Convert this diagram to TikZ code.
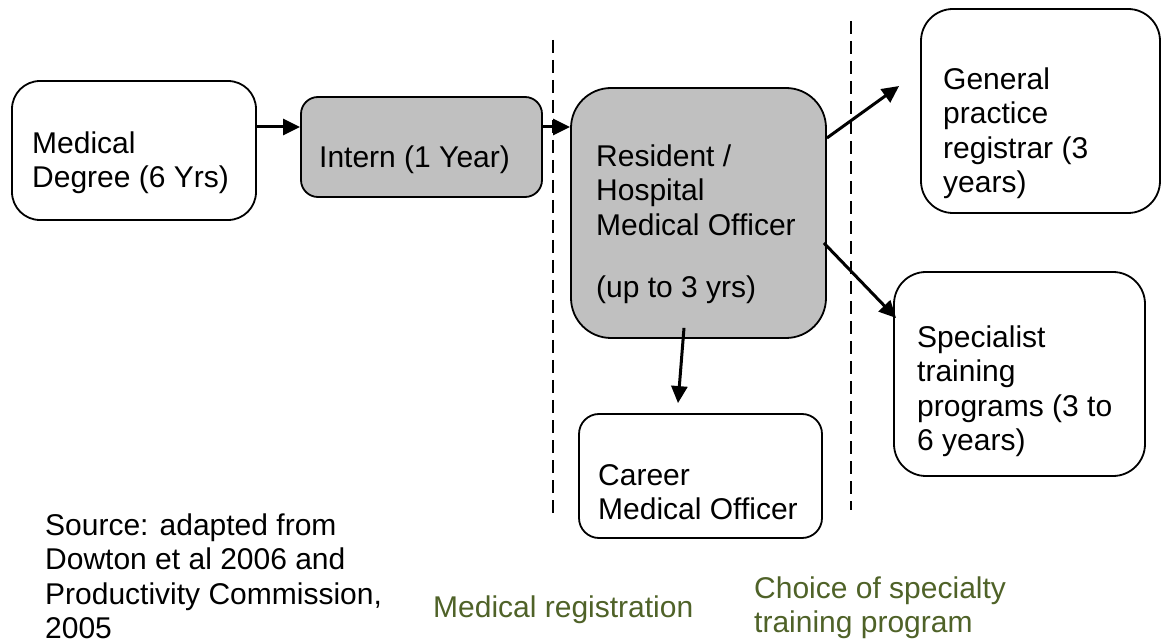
\documentclass[tikz,border=0pt]{standalone}
\usepackage{fontspec}
\setmainfont{Liberation Sans}
\usetikzlibrary{arrows.meta}
\definecolor{boxgray}{HTML}{C0C0C0}
\definecolor{olivetext}{HTML}{4F6228}
\newcommand{\fsz}{\fontsize{30}{34.5}\selectfont}
\begin{document}
\begin{tikzpicture}[x=1pt,y=-1pt,
  box/.style={draw=black, line width=1.8pt, rectangle, inner sep=0pt},
  graybox/.style={box, fill=boxgray},
  txt/.style={anchor=north west, inner sep=0pt, align=left, font=\fsz},
  arr/.style={line width=3pt, -{Triangle[length=17pt,width=16pt]}},
  divider/.style={line width=1.6pt, dash pattern=on 13pt off 7pt}]
\useasboundingbox (0,0) rectangle (1168,644);

% boxes
\node[box, rounded corners=28pt, minimum width=244pt, minimum height=139pt] (med) at (134,150.5) {};
\node[graybox, rounded corners=17pt, minimum width=241pt, minimum height=100pt] (intern) at (421.5,147) {};
\node[graybox, rounded corners=40pt, minimum width=255pt, minimum height=250pt] (res) at (698.5,213) {};
\node[box, rounded corners=20pt, minimum width=243pt, minimum height=124pt] (career) at (700.5,476) {};
\node[box, rounded corners=32pt, minimum width=239pt, minimum height=204pt] (gp) at (1040.5,111) {};
\node[box, rounded corners=32pt, minimum width=251pt, minimum height=204pt] (spec) at (1019.5,374) {};

% texts
\node[txt] (tmed) at (32,128.85) {\strut Medical\\Degree (6 Yrs)};
\node[txt] (tintern) at (319,142.85) {\strut Intern (1 Year)};
\node[txt] (tres) at (596,141.85) {\strut Resident /\\Hospital\\Medical Officer\\[27.5pt](up to 3 yrs)};
\node[txt] (tcareer) at (598,460.85) {\strut Career\\Medical Officer};
\node[txt] (tgp) at (943,64.85) {\strut General\\practice\\registrar (3\\years)};
\node[txt] (tspec) at (917,322.85) {\strut Specialist\\training\\programs (3 to\\6 years)};
\node[txt] (tsrc) at (45,510.85) {\strut Source: adapted from\\Dowton et al 2006 and\\Productivity Commission,\\2005};
\node[txt, text=olivetext] (treg) at (433,592.85) {\strut Medical registration};
\node[txt, text=olivetext] (tchoice) at (754,573.85) {\strut Choice of specialty\\training program};

% dividers
\coordinate (d1top) at (553,40);
\coordinate (d1bot) at (553,520);
\coordinate (d2top) at (851,21);
\coordinate (d2bot) at (851,510);
\draw[divider] (d1top) -- (d1bot);
\draw[divider] (d2top) -- (d2bot);

% connectors
\draw[arr] ([yshift=23.5pt]med.east) -- ([yshift=20pt]intern.west);
\draw[arr] ([yshift=20pt]intern.east) -- ([yshift=86pt]res.west);
\draw[arr] ([yshift=75pt]res.east) -- ([xshift=-21pt,yshift=25pt]gp.west);
\draw[arr] ([xshift=-3pt,yshift=-30pt]res.east) -- ([xshift=3pt,yshift=56pt]spec.west);
\draw[arr] ([xshift=-14.5pt,yshift=11pt]res.south) -- ([xshift=-22.5pt,yshift=10pt]career.north);
\end{tikzpicture}
\end{document}
